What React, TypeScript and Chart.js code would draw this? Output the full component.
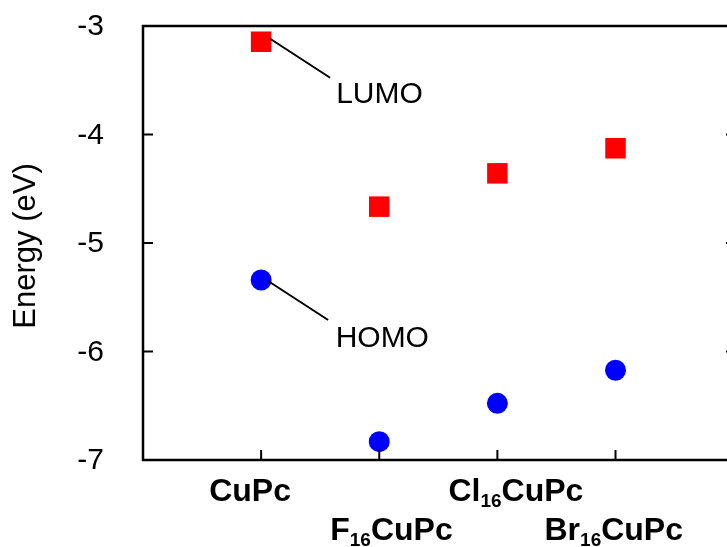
import React, { useEffect, useRef } from "react";
import { Chart, registerables } from "chart.js";

Chart.register(...registerables);

const categories = ["CuPc", "F16CuPc", "Cl16CuPc", "Br16CuPc"];
const lumoValues = [-3.145, -4.665, -4.358, -4.127];
const homoValues = [-5.341, -6.831, -6.478, -6.173];
const yTicks = [-3, -4, -5, -6, -7];
const yTitle = "Energy (eV)";
const lumoLabel = "LUMO";
const homoLabel = "HOMO";

const FONT = "'Liberation Sans', Arial, sans-serif";

// left-edge offsets and row for the staggered category labels
const labelDx = [-52, -49, -49, -71];
const labelBaseline = [501, 540, 501, 540];

const framePlugin = {
  id: "framePlugin",
  afterDraw(chart: any) {
    const ctx = chart.ctx as CanvasRenderingContext2D;
    const { left, right, top, bottom } = chart.chartArea;
    const xs = chart.scales.x;
    const ys = chart.scales.y;
    ctx.save();
    ctx.strokeStyle = "#000";
    // frame
    ctx.lineWidth = 2.5;
    ctx.beginPath();
    ctx.moveTo(left, top);
    ctx.lineTo(right, top);
    ctx.lineTo(right, bottom);
    ctx.lineTo(left, bottom);
    ctx.closePath();
    ctx.stroke();
    // y ticks inward on both sides
    ctx.lineWidth = 2;
    ctx.beginPath();
    yTicks.forEach((v) => {
      const py = ys.getPixelForValue(v);
      ctx.moveTo(left, py);
      ctx.lineTo(left + 10, py);
      ctx.moveTo(right, py);
      ctx.lineTo(right - 10, py);
    });
    // x ticks inward
    categories.forEach((_, i) => {
      const px = xs.getPixelForValue(i + 1);
      ctx.moveTo(px, bottom);
      ctx.lineTo(px, bottom - 10);
    });
    ctx.stroke();

    ctx.fillStyle = "#000";
    // y tick labels
    ctx.font = `30px ${FONT}`;
    ctx.textAlign = "right";
    ctx.textBaseline = "middle";
    yTicks.forEach((v) => {
      ctx.fillText(String(v), left - 39, ys.getPixelForValue(v) + 1);
    });

    // category labels with subscripts
    ctx.textBaseline = "alphabetic";
    ctx.textAlign = "left";
    categories.forEach((name, i) => {
      const m = name.match(/^([^\d]+)(\d+)(.*)$/);
      let x = xs.getPixelForValue(i + 1) + labelDx[i];
      const by = labelBaseline[i];
      const big = `bold 32px ${FONT}`;
      const small = `bold 19px ${FONT}`;
      if (m) {
        ctx.font = big;
        ctx.fillText(m[1], x, by);
        x += ctx.measureText(m[1]).width;
        ctx.font = small;
        ctx.fillText(m[2], x, by + 6);
        x += ctx.measureText(m[2]).width;
        ctx.font = big;
        ctx.fillText(m[3], x, by);
      } else {
        ctx.font = big;
        ctx.fillText(name, x, by);
      }
    });

    // y title
    ctx.save();
    ctx.translate(35, (top + bottom) / 2 + 3);
    ctx.rotate(-Math.PI / 2);
    ctx.textAlign = "center";
    ctx.font = `31px ${FONT}`;
    ctx.fillText(yTitle, 0, 0);
    ctx.restore();

    // annotations
    const lx = xs.getPixelForValue(1);
    const ly = ys.getPixelForValue(lumoValues[0]);
    const hy = ys.getPixelForValue(homoValues[0]);
    ctx.lineWidth = 2;
    ctx.beginPath();
    ctx.moveTo(lx + 9, ly - 3);
    ctx.lineTo(lx + 69, ly + 36);
    ctx.moveTo(lx + 7, hy + 1);
    ctx.lineTo(lx + 67, hy + 40);
    ctx.stroke();
    ctx.font = `30px ${FONT}`;
    ctx.textAlign = "left";
    ctx.fillText(lumoLabel, lx + 75, ly + 61);
    ctx.fillText(homoLabel, lx + 74.5, hy + 67);
    ctx.restore();
  },
};

export default function App() {
  const ref = useRef<HTMLCanvasElement>(null);
  useEffect(() => {
    document.body.style.margin = "0";
    document.body.style.overflow = "hidden";
    const canvas = ref.current!;
    const chart = new Chart(canvas, {
      type: "scatter",
      data: {
        datasets: [
          {
            label: lumoLabel,
            data: lumoValues.map((v, i) => ({ x: i + 1, y: v })),
            pointStyle: "rect",
            pointRadius: 14.5,
            pointHoverRadius: 14.5,
            backgroundColor: "#ff0000",
            borderColor: "#ff0000",
            borderWidth: 0,
          },
          {
            label: homoLabel,
            data: homoValues.map((v, i) => ({ x: i + 1, y: v })),
            pointStyle: "circle",
            pointRadius: 10.5,
            pointHoverRadius: 10.5,
            backgroundColor: "#0000ff",
            borderColor: "#0000ff",
            borderWidth: 0,
          },
        ],
      },
      options: {
        responsive: false,
        animation: false,
        devicePixelRatio: 1,
        layout: {
          autoPadding: false,
          padding: { left: 0, top: 26, right: 4, bottom: 87 },
        },
        plugins: {
          legend: { display: false },
          tooltip: { enabled: false },
        },
        scales: {
          x: {
            type: "linear",
            display: false,
            min: 0,
            max: 5.02,
          },
          y: {
            type: "linear",
            min: -7,
            max: -3,
            afterFit: (scale: any) => {
              scale.width = 143;
            },
            grid: { display: false, drawTicks: false, tickLength: 0 },
            border: { display: false },
            ticks: { display: false, stepSize: 1, padding: 0 },
          },
        },
      },
      plugins: [framePlugin],
    });
    return () => chart.destroy();
  }, []);
  return (
    <div
      style={{
        position: "absolute",
        left: 0,
        top: 0,
        width: 727,
        height: 547,
        overflow: "hidden",
        background: "#fff",
      }}
    >
      <canvas ref={ref} width={740} height={547} style={{ display: "block" }} />
    </div>
  );
}
